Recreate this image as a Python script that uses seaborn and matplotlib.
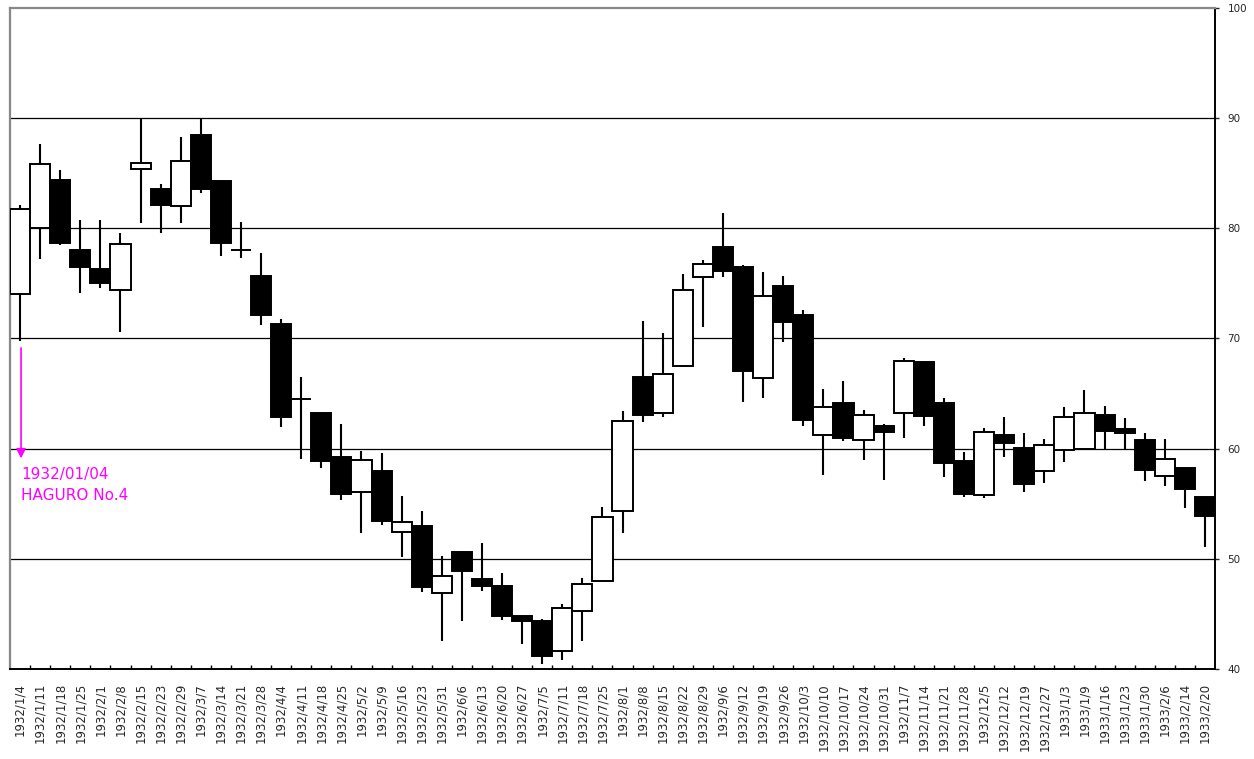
import matplotlib
matplotlib.use("Agg")
import matplotlib.pyplot as plt
import seaborn as sns
import pandas as pd

# weekly prices
dates = ["1932/1/4", "1932/1/11", "1932/1/18", "1932/1/25", "1932/2/1", "1932/2/8",
         "1932/2/15", "1932/2/23", "1932/2/29", "1932/3/7", "1932/3/14", "1932/3/21",
         "1932/3/28", "1932/4/4", "1932/4/11", "1932/4/18", "1932/4/25", "1932/5/2",
         "1932/5/9", "1932/5/16", "1932/5/23", "1932/5/31", "1932/6/6", "1932/6/13",
         "1932/6/20", "1932/6/27", "1932/7/5", "1932/7/11", "1932/7/18", "1932/7/25",
         "1932/8/1", "1932/8/8", "1932/8/15", "1932/8/22", "1932/8/29", "1932/9/6",
         "1932/9/12", "1932/9/19", "1932/9/26", "1932/10/3", "1932/10/10", "1932/10/17",
         "1932/10/24", "1932/10/31", "1932/11/7", "1932/11/14", "1932/11/21", "1932/11/28",
         "1932/12/5", "1932/12/12", "1932/12/19", "1932/12/27", "1933/1/3", "1933/1/9",
         "1933/1/16", "1933/1/23", "1933/1/30", "1933/2/6", "1933/2/14", "1933/2/20"]

opens = [74.0, 80.0, 84.4, 78.0, 76.3, 74.4, 85.4, 83.6, 82.0, 88.5,
         84.3, 78.0, 75.7, 71.3, 64.5, 63.2, 59.2, 56.1, 58.0, 52.45,
         53.0, 46.9, 50.6, 48.2, 47.5, 44.8, 44.4, 41.6, 45.3, 48.0,
         54.3, 66.5, 63.2, 67.5, 75.6, 78.3, 76.5, 66.4, 74.8, 72.1,
         61.2, 64.1, 60.8, 62.1, 63.2, 67.9, 64.1, 58.9, 55.8, 61.25,
         60.1, 58.0, 59.9, 60.0, 63.1, 61.8, 60.75, 57.55, 58.2, 55.6]
highs = [82.1, 87.7, 85.3, 80.8, 80.8, 79.6, 89.9, 84.0, 88.3, 89.9,
         84.4, 80.6, 77.8, 71.8, 66.5, 63.3, 62.2, 59.8, 59.6, 55.7,
         54.3, 50.3, 50.7, 51.4, 48.7, 44.85, 44.5, 45.9, 48.3, 54.7,
         63.45, 71.6, 70.5, 75.9, 77.15, 81.4, 76.7, 76.0, 75.7, 72.6,
         65.45, 66.1, 63.55, 62.2, 68.25, 67.95, 64.6, 59.7, 61.9, 62.9,
         61.4, 60.85, 63.8, 65.3, 63.9, 62.8, 61.4, 60.9, 58.25, 55.65]
lows = [69.8, 77.2, 78.5, 74.1, 74.6, 70.6, 80.5, 79.6, 80.5, 83.2,
        77.5, 77.3, 71.2, 62.0, 59.1, 58.2, 55.3, 52.3, 53.1, 50.2,
        47.0, 42.5, 44.4, 47.1, 44.45, 42.25, 40.45, 40.8, 42.5, 47.95,
        52.3, 62.4, 62.9, 67.45, 71.0, 75.6, 64.2, 64.6, 69.65, 62.1,
        57.6, 60.7, 59.0, 57.15, 60.95, 62.1, 57.4, 55.65, 55.5, 59.2,
        56.05, 56.9, 58.8, 60.0, 60.0, 60.0, 57.05, 56.6, 54.6, 51.1]
closes = [81.8, 85.8, 78.7, 76.5, 75.0, 78.6, 85.9, 82.1, 86.1, 83.6,
          78.7, 78.0, 72.1, 62.9, 64.5, 58.9, 55.9, 59.0, 53.4, 53.3,
          47.45, 48.4, 48.9, 47.5, 44.8, 44.4, 41.2, 45.5, 47.7, 53.8,
          62.5, 63.05, 66.8, 74.4, 76.8, 76.1, 67.05, 73.9, 71.5, 62.6,
          63.8, 61.0, 63.1, 61.5, 68.0, 63.0, 58.7, 55.9, 61.5, 60.5,
          56.8, 60.3, 62.9, 63.2, 61.6, 61.4, 58.05, 59.1, 56.3, 53.9]

df = pd.DataFrame({"date": dates, "open": opens, "high": highs, "low": lows, "close": closes})
df["x"] = range(len(df))
df["bottom"] = df[["open", "close"]].min(axis=1)
df["height"] = (df["close"] - df["open"]).abs()
df["face"] = ["black" if c < o else "white" for o, c in zip(df["open"], df["close"])]

sns.set_style("white")
plt.rcParams["font.family"] = ["DejaVu Sans"]

fig = plt.figure(figsize=(12.54, 7.59), dpi=100)
ax = fig.add_axes([10 / 1254, 1 - 669 / 759, 1205 / 1254, 661 / 759])

# horizontal grid lines
for g in [50, 60, 70, 80, 90]:
    ax.axhline(g, color="black", lw=0.9, zorder=1)

# wicks then bodies
ax.vlines(df["x"], df["low"], df["high"], color="black", lw=1.5, zorder=2)
ax.bar(df["x"], df["height"], bottom=df["bottom"], width=1.0,
       color=df["face"], edgecolor="black", linewidth=1.4, zorder=3)

ax.set_xlim(-0.5, len(df) - 0.5)
ax.set_ylim(40, 100)

ax.set_xticks(df["x"])
ax.set_xticklabels(df["date"], rotation=90, fontsize=8.5)
ax.set_xticks([i + 0.5 for i in range(len(df) - 1)], minor=True)
ax.tick_params(axis="x", which="major", length=0, pad=10)
ax.tick_params(axis="x", which="minor", direction="in", length=3, width=1, color="black", bottom=True)

ax.yaxis.tick_right()
ax.set_yticks([40, 50, 60, 70, 80, 90, 100])
ax.tick_params(axis="y", which="major", direction="out", length=3, width=1,
               labelsize=7.5, pad=6, right=True, left=False)

for side in ["left", "top"]:
    ax.spines[side].set_color("#888888")
    ax.spines[side].set_linewidth(1.6)
for side in ["right", "bottom"]:
    ax.spines[side].set_color("black")
    ax.spines[side].set_linewidth(1.4)

# magenta annotation
ax.annotate("", xy=(0.05, 58.87), xytext=(0.05, 69.4),
            arrowprops=dict(arrowstyle="-|>", color="#ff00ff", lw=1.2, mutation_scale=14),
            zorder=5)
ax.text(0.05, 58.3, "1932/01/04\nHAGURO No.4", color="#ff00ff", fontsize=11,
        ha="left", va="top", linespacing=1.45, zorder=5)

fig.savefig("out.png", dpi=100)
